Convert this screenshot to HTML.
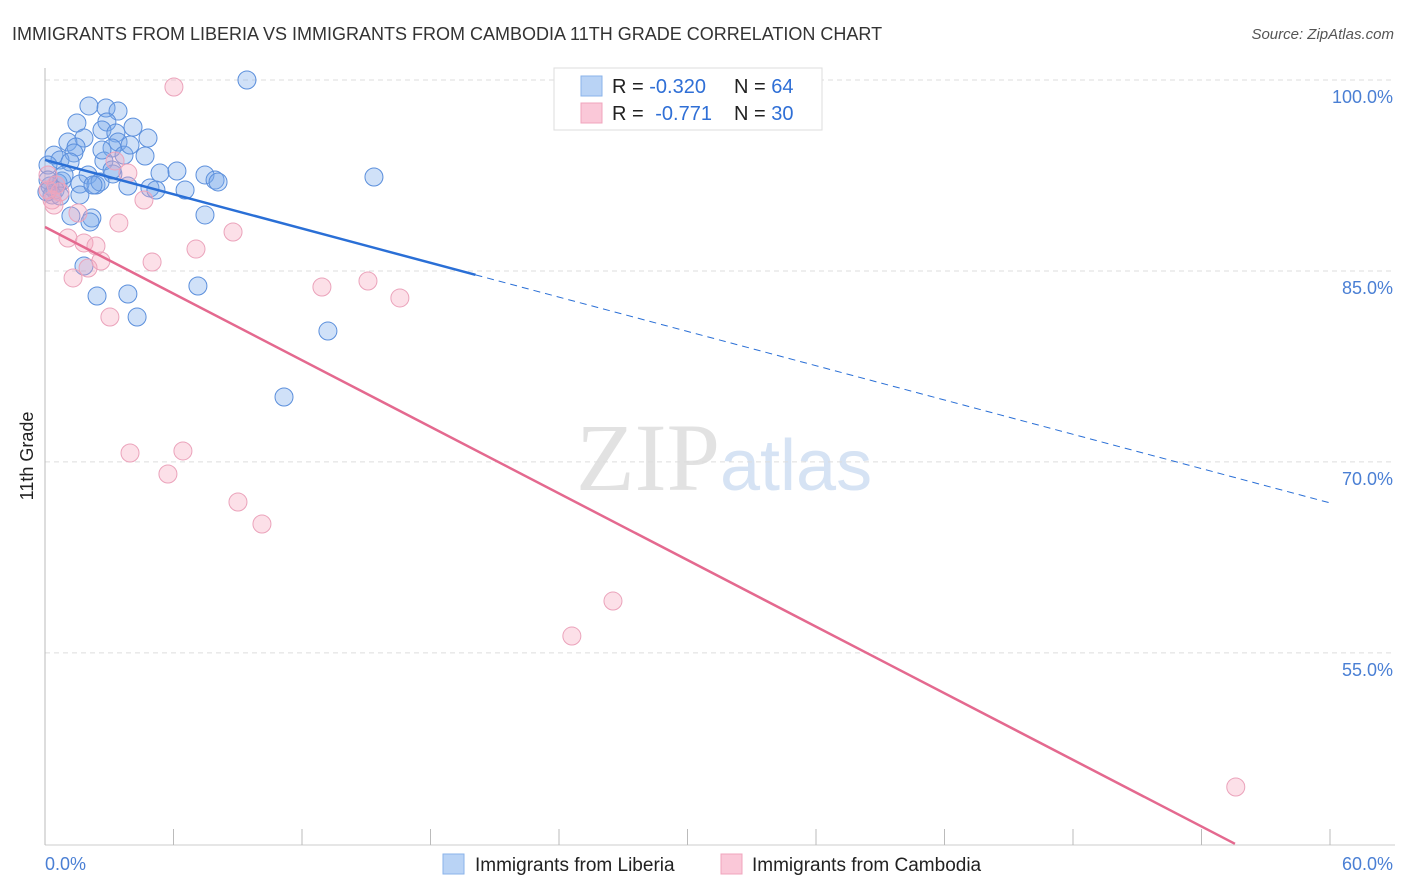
<!DOCTYPE html>
<html><head><meta charset="utf-8"><style>
body{margin:0;background:#fff;font-family:"Liberation Sans",sans-serif;}
svg{display:block}
</style></head><body>
<svg id="chart" width="1406" height="892">
<text x="12" y="40" font-size="18" fill="#333">IMMIGRANTS FROM LIBERIA VS IMMIGRANTS FROM CAMBODIA 11TH GRADE CORRELATION CHART</text>
<text x="1394" y="39" font-size="15" fill="#555" text-anchor="end" font-style="italic">Source: ZipAtlas.com</text>
<text x="33" y="456" font-size="18" fill="#222" text-anchor="middle" transform="rotate(-90 33 456)">11th Grade</text>
<text x="720" y="490" font-size="96" fill="#e2e2e2" text-anchor="end" font-family="Liberation Serif,serif">ZIP</text>
<text x="720" y="490" font-size="72" fill="#d6e3f4">atlas</text>
<g id="grid"></g>
<g id="axes"></g>
<g id="pts"></g>
<g id="lines"></g>
<g>
<rect x="554" y="68" width="268" height="62" fill="#fff" stroke="#ddd"/>
<rect x="581" y="76" width="21" height="20" fill="#b9d3f5" stroke="#8ab3ea"/>
<rect x="581" y="103" width="21" height="20" fill="#fac8d8" stroke="#f0a4bd"/>
<text x="612" y="93" font-size="20" fill="#222">R = <tspan fill="#2f6fd6">-0.320</tspan></text>
<text x="734" y="93" font-size="20" fill="#222">N = <tspan fill="#2f6fd6">64</tspan></text>
<text x="612" y="120" font-size="20" fill="#222">R = <tspan fill="#2f6fd6" dx="6">-0.771</tspan></text>
<text x="734" y="120" font-size="20" fill="#222">N = <tspan fill="#2f6fd6">30</tspan></text>
</g>
<g>
<rect x="443" y="854" width="21" height="20" fill="#b9d3f5" stroke="#8ab3ea"/>
<text x="475" y="871" font-size="19" fill="#222">Immigrants from Liberia</text>
<rect x="721" y="854" width="21" height="20" fill="#fac8d8" stroke="#f0a4bd"/>
<text x="752" y="871" font-size="19" fill="#222">Immigrants from Cambodia</text>
</g>
</svg>
<script>
const blueX=[9.43,2.05,2.85,3.41,1.49,2.89,4.11,2.66,3.31,1.82,4.81,1.07,3.41,1.45,3.13,0.42,1.35,3.69,4.67,0.7,1.17,2.75,0.14,6.16,5.37,2.01,7.47,15.36,3.17,7.94,8.08,0.79,0.61,1.63,2.38,2.57,3.87,4.9,5.18,6.54,0.23,0.47,1.63,0.33,1.21,2.19,2.1,7.47,1.82,2.43,3.87,4.3,7.14,13.21,11.16,0.89,0.14,0.09,2.24,3.97,3.13,0.7,2.66];
const blueY=[100,97.96,97.8,97.56,96.62,96.7,96.3,96.07,95.84,95.44,95.44,95.13,95.13,94.74,94.66,94.1,94.27,94.1,94.03,93.72,93.56,93.64,93.32,92.85,92.69,92.54,92.54,92.38,92.62,92.14,91.99,92.07,91.91,91.83,91.75,91.99,91.67,91.52,91.36,91.36,91.67,91.36,90.97,90.97,89.32,89.16,88.85,89.4,85.39,83.03,83.19,81.38,83.82,80.28,75.1,92.54,92.14,91.2,91.75,94.89,92.93,90.89,94.5];
const pinkX=[6.02,0.14,0.51,0.33,0.7,3.27,3.87,4.62,1.54,3.45,1.07,1.82,2.38,8.78,7.05,2.61,5.0,2.01,1.31,12.93,15.08,16.57,3.03,3.97,6.44,5.74,9.01,10.13,26.52,24.6,55.6,0.42,0.14];
const pinkY=[99.45,92.54,91.75,90.57,91.2,93.64,92.69,90.57,89.55,88.77,87.59,87.2,86.96,88.06,86.72,85.78,85.7,85.23,84.45,83.74,84.21,82.88,81.38,70.7,70.86,69.05,66.85,65.12,59.07,56.32,44.46,90.18,91.36];
const blueTrend=[93.72,-0.449];
const pinkTrend=[88.45,-0.872];
const yTicks=[100,85,70,55];
const yTickLabels=["100.0%","85.0%","70.0%","55.0%"];
const xTicks=[0,6,12,18,24,30,36,42,48,54,60];
const NS="http://www.w3.org/2000/svg";
const X=v=>45+v*(1285/60);
const Y=v=>80+(100-v)*12.73;
function mk(tag,attrs,parent){const e=document.createElementNS(NS,tag);for(const k in attrs)e.setAttribute(k,attrs[k]);document.getElementById(parent).appendChild(e);return e;}
yTicks.forEach((t,i)=>{
 const l=mk('line',{x1:45,x2:1395,y1:Y(t),y2:Y(t),stroke:'#ddd','stroke-dasharray':'5,4'},'grid');
 
 
 const tx=mk('text',{x:1393,y:Y(t)+23,'font-size':18,fill:'#4a7fd4','text-anchor':'end'},'grid');
 tx.textContent=yTickLabels[i];
 
 
});
const ax=mk('line',{x1:45,x2:45,y1:68,y2:845,stroke:'#bbb'},'axes');


const bx=mk('line',{x1:45,x2:1395,y1:845,y2:845,stroke:'#ccc'},'axes');


xTicks.forEach(t=>{
 const l=mk('line',{x1:X(t),x2:X(t),y1:829,y2:845,stroke:'#bbb'},'axes');
 
 
});
const x0=mk('text',{x:45,y:870,'font-size':18,fill:'#4a7fd4'},'axes');x0.textContent='0.0%';


const x1=mk('text',{x:1393,y:870,'font-size':18,fill:'#4a7fd4','text-anchor':'end'},'axes');x1.textContent='60.0%';


blueX.forEach((v,i)=>{
 const c=mk('circle',{cx:X(v),cy:Y(blueY[i]),r:9,fill:'rgba(120,170,235,0.35)',stroke:'#5b8fdc','stroke-width':1},'pts');
 
 
});
pinkX.forEach((v,i)=>{
 const c=mk('circle',{cx:X(v),cy:Y(pinkY[i]),r:9,fill:'rgba(245,165,190,0.35)',stroke:'#eba3bb','stroke-width':1},'pts');
 
 
});
const bt=v=>blueTrend[0]+blueTrend[1]*v;
const l1=mk('line',{x1:X(0),y1:Y(bt(0)),x2:X(20.1),y2:Y(bt(20.1)),stroke:'#2a6fd6','stroke-width':2.5},'lines');


const l2=mk('line',{x1:X(20.1),y1:Y(bt(20.1)),x2:X(60),y2:Y(bt(60)),stroke:'#2a6fd6','stroke-width':1,'stroke-dasharray':'7,5'},'lines');


const pt=v=>pinkTrend[0]+pinkTrend[1]*v;
const xe=(40-pinkTrend[0])/pinkTrend[1];
const l3=mk('line',{x1:X(0),y1:Y(pt(0)),x2:X(xe),y2:Y(pt(xe)),stroke:'#e4698f','stroke-width':2.5},'lines');


</script>
</body></html>
